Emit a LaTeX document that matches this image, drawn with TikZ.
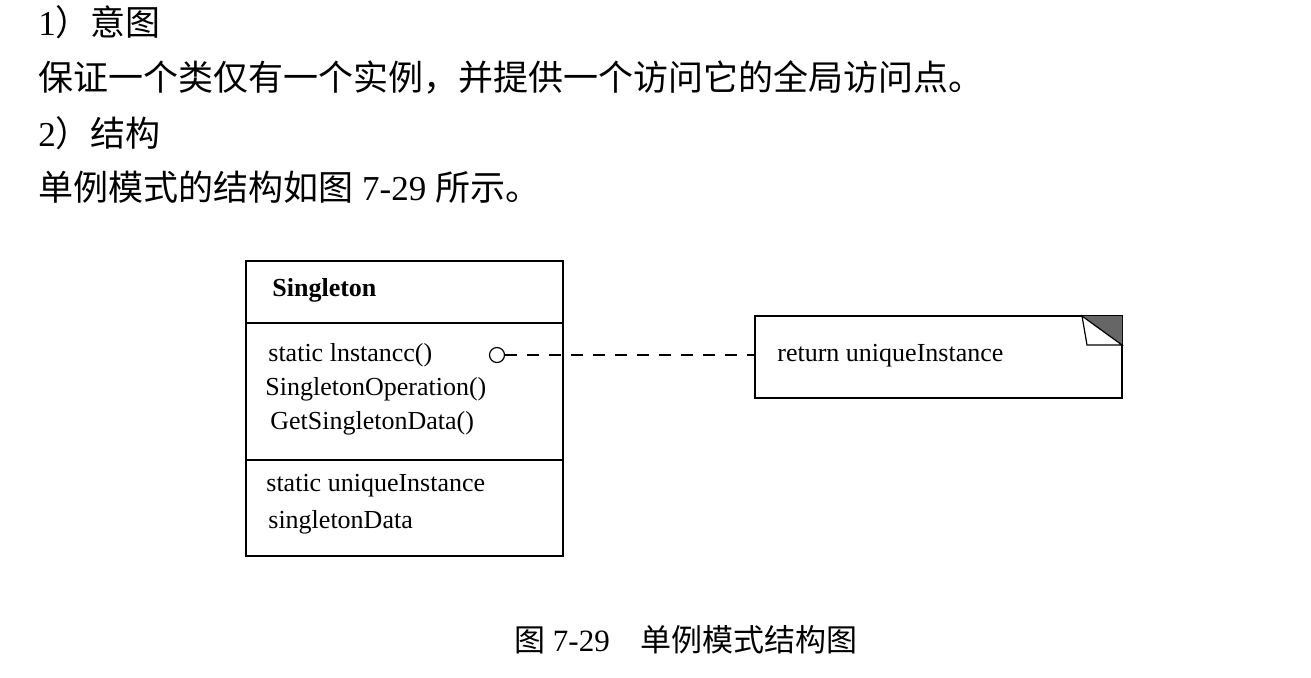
\documentclass[tikz,border=0pt]{standalone}
\usepackage{fontspec}
\setmainfont{Liberation Serif}
\newfontfamily\cjk{Noto Sans CJK SC}
\usetikzlibrary{positioning}
\newcommand{\zh}[1]{{\cjk #1}}

\begin{document}
\begin{tikzpicture}[x=0.5pt, y=-0.5pt,
    para/.style={anchor=west, inner sep=0pt, font=\fontsize{17.5}{20}\selectfont},
    box/.style={draw, line width=0.7pt, minimum width=158.5pt, inner sep=0pt, outer sep=0pt},
    member/.style={anchor=west, inner sep=0pt, font=\fontsize{13}{15}\selectfont},
    dashline/.style={line width=0.7pt, dash pattern=on 6pt off 5pt}
  ]
    \useasboundingbox (0,0) rectangle (1311,677);

    % Text above the figure
    \node[para] (intent) at (38,22) {1\zh{）意图}};
    \node[para] (intenttext) at (38,77) {\zh{保证一个类仅有一个实例，并提供一个访问它的全局访问点。}};
    \node[para] (struct) at (38,133) {2\zh{）结构}};
    \node[para] (structtext) at (38,187) {\zh{单例模式的结构如图} 7-29 \zh{所示。}};

    % Class Singleton
    \node[box, minimum height=31pt] (head) at (404.5,292) {};
    \node[box, minimum height=68.5pt, below=0pt of head] (ops) {};
    \node[box, minimum height=48pt, below=0pt of ops] (attrs) {};

    \node[member, font=\fontsize{13}{15}\selectfont\bfseries] (name) at (272,290) {Singleton};
    \node[member] (op1) at (268,355) {static lnstancc()};
    \node[member] (op2) at (265,389) {SingletonOperation()};
    \node[member] (op3) at (270,423) {GetSingletonData()};
    \node[member] (at1) at (266,486) {static uniqueInstance};
    \node[member] (at2) at (268,522) {singletonData};

    % Note
    \node[draw, line width=0.7pt, minimum width=183.5pt, minimum height=41pt, inner sep=0pt, outer sep=0pt] (note) at (938.5,357) {};
    \node[member] (notetext) at (777,356) {return uniqueInstance};
    \fill[gray!80!black] (note.north east) ++(-40,0) -- (note.north east) -- ++(0,29) -- cycle;
    \draw[line width=0.6pt, fill=white] (note.north east) ++(-40,0) -- ++(40,29) -- ++(-35,0) -- cycle;

    % Link from Instance() to the note
    \node[draw, circle, line width=0.6pt, minimum size=7.5pt, inner sep=0pt] (circ) at (497,355) {};
    \draw[dashline] (circ.east) -- (circ.east -| note.west);

    % Caption
    \node[anchor=center, inner sep=0pt, font=\fontsize{15.5}{18}\selectfont] (caption) at (686,640)
      {\zh{图} 7-29\hspace{1em}\zh{单例模式结构图}};
  \end{tikzpicture}
\end{document}
